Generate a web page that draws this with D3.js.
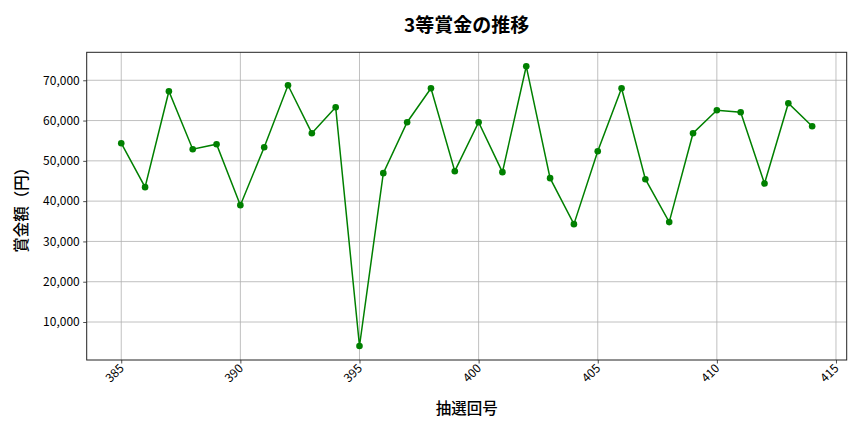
<!DOCTYPE html>
<html><head><meta charset="utf-8">
<script src="https://cdn.jsdelivr.net/npm/d3@7"></script>
<style>body{margin:0;background:#fff}svg{display:block}text{font-family:"Noto Sans CJK JP","Noto Sans",sans-serif}</style>
</head><body><svg id="c" width="864" height="432"></svg>
<script>
const rounds = [385,386,387,388,389,390,391,392,393,394,395,396,397,398,399,400,401,402,403,404,405,406,407,408,409,410,411,412,413,414];
const prizes = [54380,43470,67270,52890,54130,39000,53380,68760,56860,63300,4040,46940,59580,68010,47430,59580,47190,73470,45700,34290,52390,68010,45450,34790,56860,62560,62060,44360,64300,58590];
const xTicks = [385,390,395,400,405,410,415];
const yTicks = [10000,20000,30000,40000,50000,60000,70000];
const title = "3等賞金の推移";
const xLabel = "抽選回号";
const yLabel = "賞金額（円）";

const W=864,H=432, L=86.7, R=846.7, T=52.3, B=360;
const svg=d3.select("#c");
const span=d3.max(rounds)-d3.min(rounds);
const x=d3.scaleLinear().domain([d3.min(rounds)-span*0.05,d3.max(rounds)+span*0.05]).range([L,R]);
const vr=d3.max(prizes)-d3.min(prizes);
const y=d3.scaleLinear().domain([d3.min(prizes)-vr*0.05,d3.max(prizes)+vr*0.05]).range([B,T]);

// grid
svg.append("g").selectAll("line").data(xTicks).join("line")
  .attr("x1",d=>x(d)).attr("x2",d=>x(d)).attr("y1",T).attr("y2",B)
  .attr("stroke","#b0b0b0").attr("stroke-width",0.8);
svg.append("g").selectAll("line").data(yTicks).join("line")
  .attr("x1",L).attr("x2",R).attr("y1",d=>y(d)).attr("y2",d=>y(d))
  .attr("stroke","#b0b0b0").attr("stroke-width",0.8);

// axes
const xa=svg.append("g").attr("transform",`translate(0,${B})`)
  .call(d3.axisBottom(x).tickValues(xTicks).tickFormat(d3.format("d")).tickSize(3.5).tickPadding(3));
xa.select(".domain").remove();
xa.selectAll("line").attr("stroke","#222").attr("stroke-width",0.8);
xa.selectAll("text").attr("font-size",12).attr("fill","#000")
  .attr("text-anchor","end").attr("dy","0.35em")
  .attr("transform","translate(0,6) rotate(-45)").attr("y",0).attr("x",0);

const ya=svg.append("g").attr("transform",`translate(${L},0)`)
  .call(d3.axisLeft(y).tickValues(yTicks).tickFormat(d3.format(",")).tickSize(3.5).tickPadding(3.5));
ya.select(".domain").remove();
ya.selectAll("line").attr("stroke","#222").attr("stroke-width",0.8);
ya.selectAll("text").attr("font-size",12).attr("fill","#000");

svg.append("rect").attr("x",L).attr("y",T).attr("width",R-L).attr("height",B-T)
  .attr("fill","none").attr("stroke","#222").attr("stroke-width",1);

// line + points
svg.append("path").datum(rounds.map((r,i)=>[r,prizes[i]]))
  .attr("d",d3.line().x(d=>x(d[0])).y(d=>y(d[1])))
  .attr("fill","none").attr("stroke","green").attr("stroke-width",1.5);
svg.append("g").selectAll("circle").data(rounds).join("circle")
  .attr("cx",d=>x(d)).attr("cy",(d,i)=>y(prizes[i])).attr("r",3.3).attr("fill","green");

// labels
svg.append("text").attr("x",(L+R)/2).attr("y",32).attr("text-anchor","middle")
  .attr("font-size",19).attr("font-weight","bold").attr("fill","#000").text(title);
svg.append("text").attr("x",(L+R)/2).attr("y",414).attr("text-anchor","middle")
  .attr("font-size",15.5).attr("font-weight",500).attr("fill","#000").text(xLabel);
svg.append("text").attr("transform",`translate(27,${(T+B)/2}) rotate(-90)`).attr("text-anchor","middle")
  .attr("font-size",15.5).attr("font-weight",500).attr("fill","#000").text(yLabel);
</script></body></html>
